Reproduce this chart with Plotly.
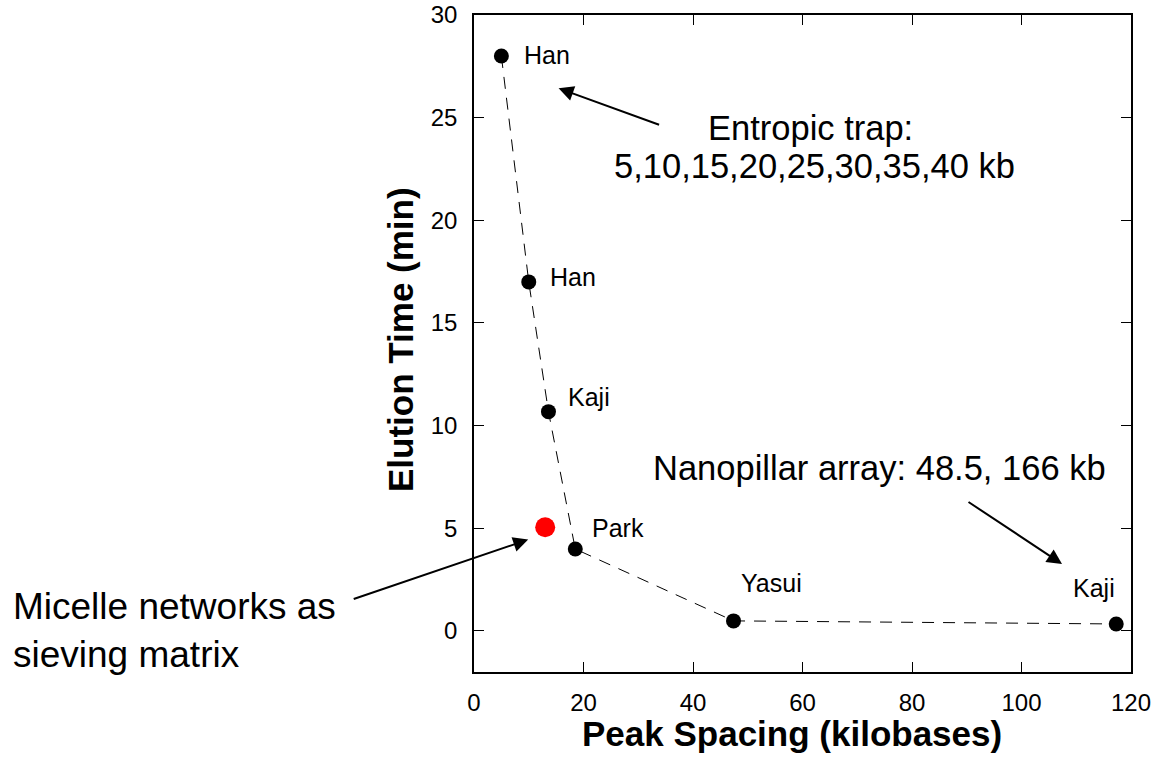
import plotly.graph_objects as go

# Data
spacing_kb = [5, 10, 13.6, 18.5, 47.4, 117.3]
elution_min = [28.0, 17.0, 10.68, 3.99, 0.49, 0.34]
point_labels = ["Han", "Han", "Kaji", "Park", "Yasui", "Kaji"]
micelle_x = [13.0]
micelle_y = [5.05]

x_ticks = [0, 20, 40, 60, 80, 100, 120]
y_ticks = [0, 5, 10, 15, 20, 25, 30]

# label offsets (pixels) relative to points: (xshift, yshift, xanchor)
label_offsets = [(21, 1, "left"), (19, 5, "left"), (18, 15, "left"),
                 (15, 21, "left"), (5, 38, "left"), (-45, 36, "left")]

FONT = "Liberation Sans, Arial, sans-serif"

fig = go.Figure()
fig.add_trace(go.Scatter(
    x=spacing_kb, y=elution_min, mode="lines+markers",
    line=dict(color="black", width=1, dash="12px,9px"),
    marker=dict(color="black", size=15),
    showlegend=False, cliponaxis=False))
fig.add_trace(go.Scatter(
    x=micelle_x, y=micelle_y, mode="markers",
    marker=dict(color="#ff0000", size=20),
    showlegend=False, cliponaxis=False))

annotations = []
for xv, yv, lab, (dx, dy, anc) in zip(spacing_kb, elution_min, point_labels, label_offsets):
    annotations.append(dict(x=xv, y=yv, xref="x", yref="y", text=lab, showarrow=False,
                            xanchor=anc, yanchor="middle", xshift=dx, yshift=dy,
                            font=dict(family=FONT, size=25, color="black")))

big = dict(family=FONT, size=34.5, color="black")
PL, PT, PW, PH = 474, 15, 657, 657

def px(xp):
    return (xp - PL) / PW

def py(yp):
    return (PT + PH - yp) / PH

annotations += [
    dict(x=px(810), y=py(128), xref="paper", yref="paper", text="Entropic trap:",
         showarrow=False, xanchor="center", yanchor="middle", font=big),
    dict(x=px(814), y=py(166), xref="paper", yref="paper", text="5,10,15,20,25,30,35,40 kb",
         showarrow=False, xanchor="center", yanchor="middle", font=big),
    dict(x=px(879), y=py(468), xref="paper", yref="paper", text="Nanopillar array: 48.5, 166 kb",
         showarrow=False, xanchor="center", yanchor="middle", font=big),
    dict(x=px(11), y=py(606), xref="paper", yref="paper", text="Micelle networks as",
         showarrow=False, xanchor="left", yanchor="middle", font=dict(family=FONT, size=37, color="black")),
    dict(x=px(11), y=py(654), xref="paper", yref="paper", text="sieving matrix",
         showarrow=False, xanchor="left", yanchor="middle", font=dict(family=FONT, size=37, color="black")),
    # axis titles
    dict(x=px(792), y=py(733), xref="paper", yref="paper", text="<b>Peak Spacing (kilobases)</b>",
         showarrow=False, xanchor="center", yanchor="middle", font=dict(family=FONT, size=35, color="black")),
    dict(x=px(400), y=py(340), xref="paper", yref="paper", text="<b>Elution Time (min)</b>",
         showarrow=False, xanchor="center", yanchor="middle", textangle=-90,
         font=dict(family=FONT, size=35, color="black")),
]

arrow_style = dict(showarrow=True, arrowhead=2, arrowsize=1.5, arrowwidth=2, arrowcolor="black",
                   text="", axref="pixel", ayref="pixel", standoff=0)
annotations += [
    dict(x=15.45, y=26.43, xref="x", yref="y", ax=102, ay=37, **arrow_style),
    dict(x=107.4, y=3.26, xref="x", yref="y", ax=-95, ay=-63, **arrow_style),
    dict(x=9.9, y=4.45, xref="x", yref="y", ax=-176, ay=60, **arrow_style),
]

axis_common = dict(showline=True, linecolor="black", linewidth=1.5, mirror="ticks",
                   ticks="inside", ticklen=10, tickwidth=1, tickcolor="black",
                   showgrid=False, zeroline=False, automargin=False,
                   ticklabeloverflow="allow",
                   tickfont=dict(family=FONT, size=24, color="black"))

fig.update_layout(
    width=1151, height=760,
    margin=dict(l=PL, r=1151 - PL - PW, t=PT, b=760 - PT - PH),
    plot_bgcolor="white", paper_bgcolor="white",
    xaxis=dict(range=[0, 120], tickvals=x_ticks, ticklabelstandoff=8, **axis_common),
    yaxis=dict(range=[-2, 30], tickvals=y_ticks, ticklabelstandoff=10, **axis_common),
    annotations=annotations,
)

fig.write_html("out.html", config={"displayModeBar": False},
               post_script="document.body.style.margin='0';document.body.style.overflow='hidden';")
